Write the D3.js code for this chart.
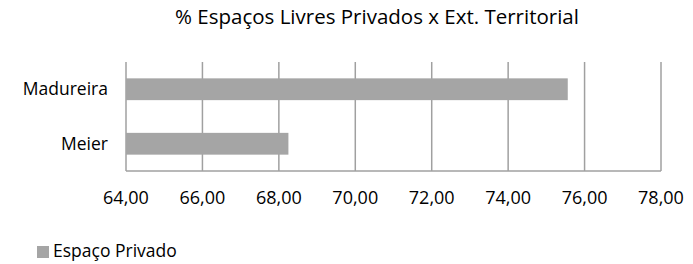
<!DOCTYPE html>
<html>
<head>
<meta charset="utf-8">
<script src="https://cdn.jsdelivr.net/npm/d3@7"></script>
<style>
    body { margin: 0; background: #fff; }
    text { font-family: "Open Sans", sans-serif; fill: #000; }
</style>
</head>
<body>
<div id="chart"></div>
<script>
// chart data
const categories = ["Madureira", "Meier"];
const values = [75.56, 68.25];
const tickValues = [64, 66, 68, 70, 72, 74, 76, 78];
const seriesName = "Espaço Privado";
const title = "% Espaços Livres Privados x Ext. Territorial";

const width = 693;
const height = 264;
const margin = { top: 62, right: 32, bottom: 93, left: 126 };

const svg = d3.select("#chart").append("svg")
    .attr("width", width)
    .attr("height", height);

const x = d3.scaleLinear()
    .domain([64, 78])
    .range([margin.left, width - margin.right]);

const y = d3.scaleBand()
    .domain(categories)
    .range([margin.top, height - margin.bottom])
    .paddingInner(0.6)
    .paddingOuter(0.3);

// title
svg.append("text")
    .attr("x", 377)
    .attr("y", 24)
    .attr("text-anchor", "middle")
    .attr("font-size", 20.5)
    .text(title);

// vertical gridlines
svg.append("g")
    .selectAll("line")
    .data(tickValues)
    .enter().append("line")
    .attr("x1", d => x(d))
    .attr("x2", d => x(d))
    .attr("y1", margin.top)
    .attr("y2", height - margin.bottom)
    .attr("stroke", "#a0a0a0")
    .attr("stroke-width", 1.5);

// bars
svg.append("g")
    .selectAll("rect")
    .data(values)
    .enter().append("rect")
    .attr("x", x(64))
    .attr("y", (d, i) => y(categories[i]))
    .attr("width", d => x(d) - x(64))
    .attr("height", y.bandwidth())
    .attr("fill", "#a5a5a5");

// bottom axis line
svg.append("line")
    .attr("x1", x(64))
    .attr("x2", x(78))
    .attr("y1", height - margin.bottom)
    .attr("y2", height - margin.bottom)
    .attr("stroke", "#a0a0a0")
    .attr("stroke-width", 1.5);

// x tick labels
svg.append("g")
    .selectAll("text")
    .data(tickValues)
    .enter().append("text")
    .attr("x", d => x(d))
    .attr("y", 204)
    .attr("text-anchor", "middle")
    .attr("font-size", 18)
    .text(d => d.toFixed(2).replace(".", ","));

// category labels
svg.append("g")
    .selectAll("text")
    .data(categories)
    .enter().append("text")
    .attr("x", 108)
    .attr("y", d => y(d) + y.bandwidth() / 2)
    .attr("dy", "0.35em")
    .attr("text-anchor", "end")
    .attr("font-size", 17.5)
    .text(d => d);

// legend
const legend = svg.append("g").attr("transform", "translate(37,246)");
legend.append("rect")
    .attr("width", 12)
    .attr("height", 12)
    .attr("fill", "#a5a5a5");
legend.append("text")
    .attr("x", 16)
    .attr("y", 11)
    .attr("font-size", 17.5)
    .text(seriesName);
</script>
</body>
</html>
